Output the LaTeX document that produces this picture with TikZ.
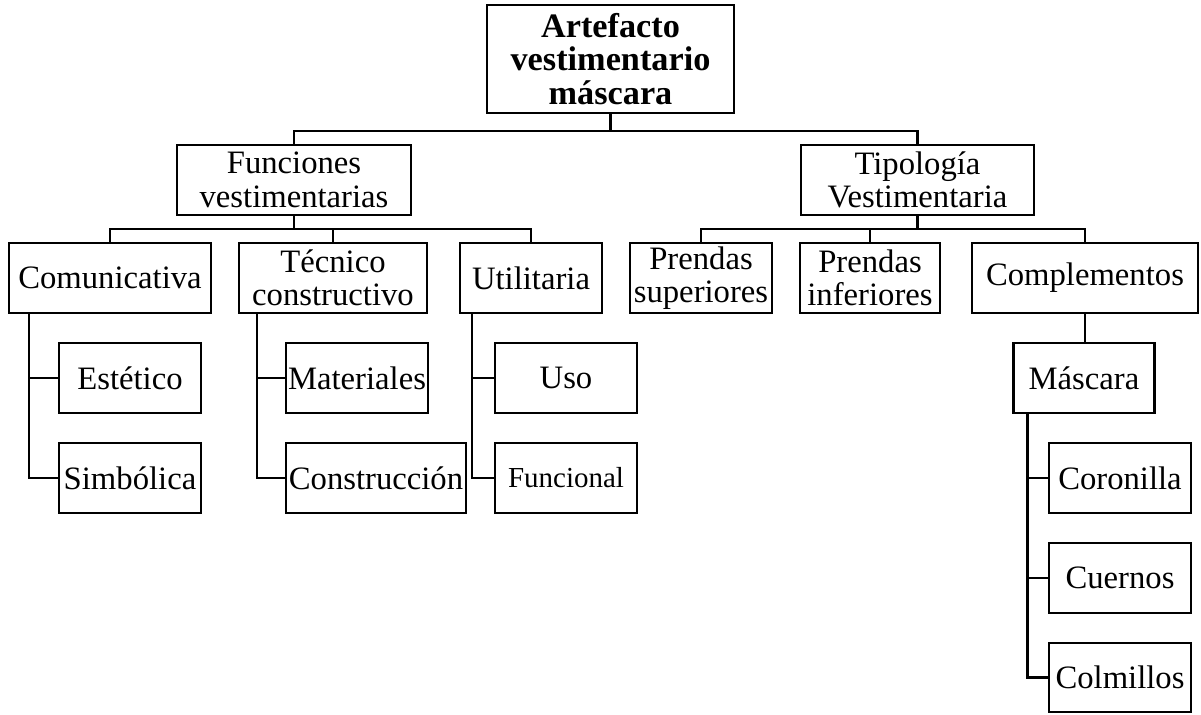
\documentclass[tikz,border=0pt]{standalone}
\usepackage{fontspec}
\setmainfont{Liberation Serif}
\usetikzlibrary{calc}

\begin{document}
\begin{tikzpicture}[x=0.02cm,y=-0.02cm,line width=1.4pt,
  box/.style={draw,align=center,inner sep=0pt,minimum height=1.4cm,font=\fontsize{18.6}{19}\selectfont}]
  \useasboundingbox (0,0) rectangle (1201,714);
  % top
  \node[box,minimum width=4.94cm,minimum height=2.16cm,font=\fontsize{19.5}{19}\selectfont\bfseries] (root) at (610.5,59) {Artefacto\\vestimentario\\máscara};
  \node[box,minimum width=4.68cm] (fun) at (294,180) {Funciones\\vestimentarias};
  \node[box,minimum width=4.66cm] (tip) at (917.5,180) {Tipología\\Vestimentaria};
  % second row
  \node[box,minimum width=4.04cm] (com) at (110,278) {Comunicativa};
  \node[box,minimum width=3.76cm] (tec) at (333,278) {Técnico\\constructivo};
  \node[box,minimum width=2.84cm] (uti) at (531,278) {Utilitaria};
  \node[box,minimum width=2.84cm] (sup) at (701,278) {Prendas\\superiores};
  \node[box,minimum width=2.8cm] (inf) at (870,278) {Prendas\\inferiores};
  \node[box,minimum width=4.52cm] (compl) at (1085,278) {Complementos};
  % leaves
  \node[box,minimum width=2.84cm] (est) at (130,378) {Estético};
  \node[box,minimum width=2.84cm] (sim) at (130,478) {Simbólica};
  \node[box,minimum width=2.84cm] (mat) at (357,378) {Materiales};
  \node[box,minimum width=3.6cm] (con) at (376,478) {Construcción};
  \node[box,minimum width=2.84cm] (uso) at (566,378) {Uso};
  \node[box,minimum width=2.84cm,font=\fontsize{16.5}{18}\selectfont] (fcl) at (566,478) {Funcional};
  \node[box,minimum width=2.82cm] (mas) at (1084,378) {Máscara};
  \node[box,minimum width=2.84cm] (cor) at (1120,478) {Coronilla};
  \node[box,minimum width=2.84cm] (cue) at (1120,578) {Cuernos};
  \node[box,minimum width=2.84cm,minimum height=1.38cm] (col) at (1120,677.5) {Colmillos};
  % buses
  \draw (root.south) -- ++(0,17) coordinate (b0);
  \draw (fun.north) |- (b0) -| (tip.north);
  \draw (fun.south) -- ++(0,13) coordinate (b1);
  \draw (com.north) |- (b1) -| (uti.north);
  \draw (tec.north) -- (tec.north |- b1);
  \draw (tip.south) -- ++(0,13) coordinate (b2);
  \draw (sup.north) |- (b2) -| (compl.north);
  \draw (inf.north) -- (inf.north |- b2);
  \draw (compl.south) -- (compl.south |- mas.north);
  % spines
  \coordinate (s1) at ([xshift=0.42cm]com.south west);
  \draw (s1) |- (sim.west);
  \draw (est.west) -- (est.west -| s1);
  \coordinate (s2) at ([xshift=0.38cm]tec.south west);
  \draw (s2) |- (con.west);
  \draw (mat.west) -- (mat.west -| s2);
  \coordinate (s3) at ([xshift=0.26cm]uti.south west);
  \draw (s3) |- (fcl.west);
  \draw (uso.west) -- (uso.west -| s3);
  \coordinate (s4) at ([xshift=0.3cm]mas.south west);
  \draw (s4) |- (col.west);
  \draw (cor.west) -- (cor.west -| s4);
  \draw (cue.west) -- (cue.west -| s4);
\end{tikzpicture}
\end{document}
